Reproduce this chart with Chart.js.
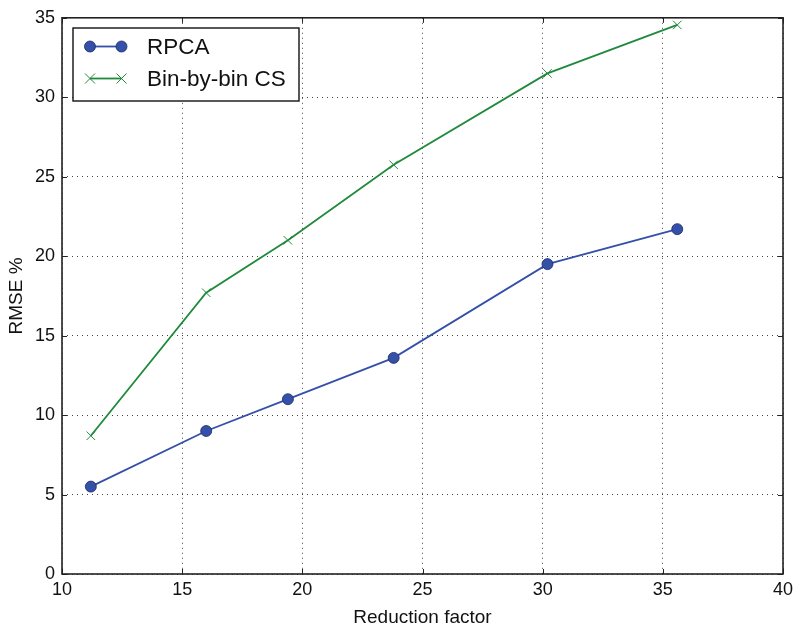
<!DOCTYPE html>
<html>
<head>
<meta charset="utf-8">
<script src="https://cdn.jsdelivr.net/npm/chart.js@4/dist/chart.umd.min.js"></script>
<style>
  html, body { margin: 0; padding: 0; background: #fff; }
  #wrap { width: 800px; height: 629px; }
</style>
</head>
<body>
<div id="wrap"><canvas id="rmseChart" width="800" height="629"></canvas></div>
<script>
// values
const reductionFactor = [11.2, 16.0, 19.4, 23.8, 30.2, 35.6];
const rpcaRmse = [5.5, 9.0, 11.0, 13.6, 19.5, 21.7];
const binByBinRmse = [8.7, 17.7, 21.0, 25.75, 31.5, 34.55];
const seriesLabels = ['RPCA', 'Bin-by-bin CS'];
const xTicks = [10, 15, 20, 25, 30, 35, 40];
const yTicks = [0, 5, 10, 15, 20, 25, 30, 35];

const FONT = '"Liberation Sans", Arial, Helvetica, sans-serif';
const BLUE = '#3450a8';
const GREEN = '#1f8a3c';

function toPoints(xs, ys) {
  return xs.map((x, i) => ({ x: x, y: ys[i] }));
}

// frame, inward ticks and a matplotlib-like legend
const frameAndLegend = {
  id: 'frameAndLegend',
  afterDraw(chart) {
    const ctx = chart.ctx;
    const a = chart.chartArea;
    const xs = chart.scales.x;
    const ys = chart.scales.y;
    ctx.save();
    ctx.strokeStyle = '#222';
    ctx.lineWidth = 1;
    ctx.beginPath();
    xTicks.forEach(v => {
      const px = Math.round(xs.getPixelForValue(v)) + 0.5;
      ctx.moveTo(px, a.bottom); ctx.lineTo(px, a.bottom - 5);
      ctx.moveTo(px, a.top); ctx.lineTo(px, a.top + 5);
    });
    yTicks.forEach(v => {
      const py = Math.round(ys.getPixelForValue(v)) + 0.5;
      ctx.moveTo(a.left, py); ctx.lineTo(a.left + 5, py);
      ctx.moveTo(a.right, py); ctx.lineTo(a.right - 5, py);
    });
    ctx.stroke();

    ctx.lineWidth = 1.6;
    ctx.strokeRect(a.left, a.top, a.right - a.left, a.bottom - a.top);

    // legend box
    const bx = 73, by = 28, bw = 226, bh = 73;
    ctx.fillStyle = '#fff';
    ctx.fillRect(bx, by, bw, bh);
    ctx.lineWidth = 1.4;
    ctx.strokeStyle = '#111';
    ctx.strokeRect(bx, by, bw, bh);

    const rows = [46.5, 78.5];
    chart.data.datasets.forEach((ds, i) => {
      const y = rows[i];
      ctx.strokeStyle = ds.borderColor;
      ctx.lineWidth = 1.8;
      ctx.beginPath();
      ctx.moveTo(90, y); ctx.lineTo(121.5, y);
      ctx.stroke();
      [90, 121.5].forEach(px => {
        if (ds.pointStyle === 'circle') {
          ctx.beginPath();
          ctx.arc(px, y, 5.5, 0, Math.PI * 2);
          ctx.fillStyle = ds.pointBackgroundColor;
          ctx.fill();
          ctx.lineWidth = 0.8;
          ctx.strokeStyle = ds.pointBorderColor;
          ctx.stroke();
        } else {
          ctx.beginPath();
          ctx.lineWidth = 1;
          ctx.strokeStyle = ds.pointBorderColor;
          ctx.moveTo(px - 5, y - 5); ctx.lineTo(px + 5, y + 5);
          ctx.moveTo(px - 5, y + 5); ctx.lineTo(px + 5, y - 5);
          ctx.stroke();
        }
      });
      ctx.fillStyle = '#111';
      ctx.font = '22.5px ' + FONT;
      ctx.textAlign = 'left';
      ctx.textBaseline = 'middle';
      ctx.fillText(ds.label, 147, y + 1);
    });
    ctx.restore();
  }
};

const ctx = document.getElementById('rmseChart').getContext('2d');
new Chart(ctx, {
  type: 'line',
  data: {
    datasets: [{
      label: seriesLabels[0],
      data: toPoints(reductionFactor, rpcaRmse),
      borderColor: BLUE,
      borderWidth: 1.8,
      pointStyle: 'circle',
      pointRadius: 5.5,
      pointBackgroundColor: BLUE,
      pointBorderColor: '#1c2a66',
      pointBorderWidth: 0.8,
      tension: 0,
      clip: false
    }, {
      label: seriesLabels[1],
      data: toPoints(reductionFactor, binByBinRmse),
      borderColor: GREEN,
      borderWidth: 1.8,
      pointStyle: 'crossRot',
      pointRadius: 6,
      pointBorderColor: GREEN,
      pointBorderWidth: 1,
      tension: 0,
      clip: false
    }]
  },
  options: {
    responsive: false,
    animation: false,
    layout: { padding: { top: 16, right: 17, left: 0, bottom: 0 } },
    plugins: {
      legend: { display: false },
      tooltip: { enabled: false }
    },
    scales: {
      x: {
        type: 'linear',
        min: 10,
        max: 40,
        afterBuildTicks: s => { s.ticks = xTicks.map(v => ({ value: v })); },
        afterFit: s => { s.height = 55; },
        ticks: {
          color: '#111',
          padding: 5,
          font: { family: FONT, size: 18 }
        },
        grid: { color: '#444', lineWidth: 1, drawTicks: false },
        border: { display: false, dash: [1, 4] },
        title: {
          display: true,
          text: 'Reduction factor',
          color: '#111',
          padding: { top: 3, bottom: 0 },
          font: { family: FONT, size: 19 }
        }
      },
      y: {
        min: 0,
        max: 35,
        afterBuildTicks: s => { s.ticks = yTicks.map(v => ({ value: v })); },
        afterFit: s => { s.width = 62; },
        ticks: {
          color: '#111',
          padding: 7,
          font: { family: FONT, size: 18 }
        },
        grid: { color: '#444', lineWidth: 1, drawTicks: false },
        border: { display: false, dash: [1, 4] },
        title: {
          display: true,
          text: 'RMSE %',
          color: '#111',
          padding: { top: 5, bottom: 0 },
          font: { family: FONT, size: 19 }
        }
      }
    }
  },
  plugins: [frameAndLegend]
});
</script>
</body>
</html>
